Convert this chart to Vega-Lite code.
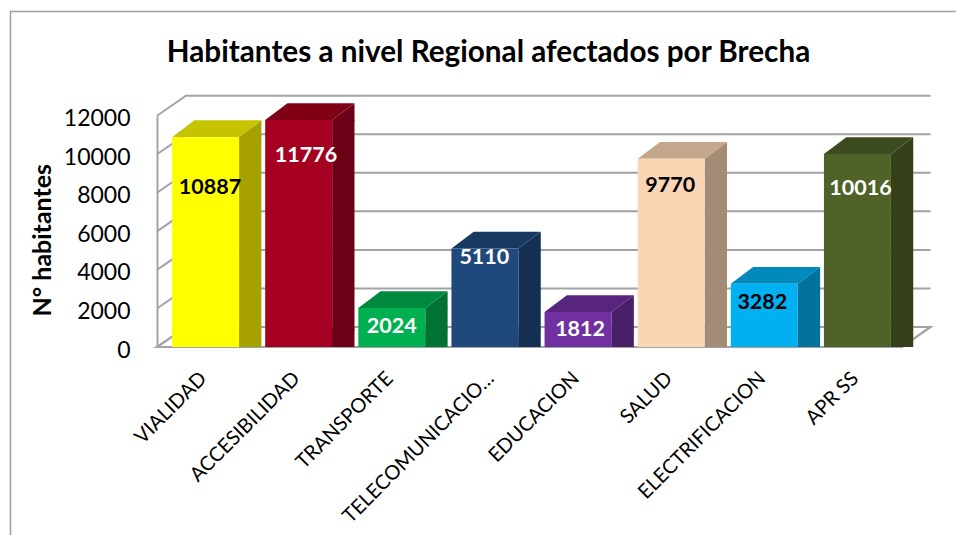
{
"$schema":"https://vega.github.io/schema/vega-lite/v6.json",
"autosize":"none",
"width":745,"height":231.3,
"padding":{"left":157,"top":115.7,"right":54,"bottom":188},
"background":"white",
"config":{"view":{"stroke":null},"font":"Lato"},
"title":{"text":"Habitantes a nivel Regional afectados por Brecha","font":"Lato","fontSize":29.7,"fontWeight":"bold","color":"#000000","anchor":"middle","frame":"group","dx":-41,"offset":-60},
"data":{"values":[
{"cat":"VIALIDAD","value":10887},
{"cat":"ACCESIBILIDAD","value":11776},
{"cat":"TRANSPORTE","value":2024},
{"cat":"TELECOMUNICACIO…","value":5110},
{"cat":"EDUCACION","value":1812},
{"cat":"SALUD","value":9770},
{"cat":"ELECTRIFICACION","value":3282},
{"cat":"APR SS","value":10016}
]},
"resolve":{"scale":{"color":"independent"}},
"layer":[
{"data":{"values":[{"f":1}]},"mark":{"type":"point","filled":false,"opacity":1,"size":4,"stroke":"#a0a0a0","strokeWidth":1.5,"shape":"M-519,303.65 L-519,-219.85 L426.5,-219.85"},"encoding":{}},
{"data":{"values":[{"tick":2000},{"tick":4000},{"tick":6000},{"tick":8000},{"tick":10000},{"tick":12000}]},
 "mark":{"type":"point","filled":false,"opacity":1,"size":4,"stroke":"#a3a3a3","strokeWidth":2,"shape":"M-372.5,0 L-343.5,-20 L401,-20"},
 "encoding":{"y":{"field":"tick","type":"quantitative","scale":{"domain":[0,12000]},"title":"N° habitantes",
   "axis":{"values":[0,2000,4000,6000,8000,10000,12000],"tickCount":7,"format":"d","grid":false,"ticks":false,"domain":true,"domainColor":"#a3a3a3","domainWidth":2,"labelFont":"Lato","labelFontSize":23,"labelColor":"#000000","labelPadding":27,"labelOffset":3,"labelOverlap":false,"labelBound":false,"labelSeparation":0,"titleFont":"Lato","titleFontSize":25,"titleFontWeight":"bold","titleColor":"#000000","titleX":-115,"titleY":124,"titleAngle":-90,"titleBaseline":"middle","titleAlign":"center"}}}},
{"data":{"values":[{"tick":0}]},
 "mark":{"type":"point","filled":false,"opacity":1,"size":4,"stroke":"#a3a3a3","strokeWidth":2.2,"shape":"M-372.5,0 L-343.5,-20 L401,-20 L372.5,0 Z"},
 "encoding":{"y":{"field":"tick","type":"quantitative","title":"N° habitantes"}}},
{"mark":{"type":"bar","size":22.3,"xOffset":46.65,"y2Offset":-17},
 "encoding":{
  "x":{"field":"cat","type":"nominal","sort":null,"scale":{"paddingInner":0,"paddingOuter":0},"title":null,
   "axis":{"domain":false,"ticks":false,"labelAngle":-45,"labelAlign":"right","labelBaseline":"middle","labelFont":"Lato","labelFontSize":20,"labelColor":"#000000","labelPadding":28,"labelLimit":300,"labelOverlap":false,
    "labelOffset":{"expr":"datum.value=='TELECOMUNICACIO…'?8:0"}}},
  "y":{"field":"value","type":"quantitative","title":"N° habitantes"},
  "color":{"field":"cat","type":"nominal","sort":null,"legend":null,"scale":{"domain":["VIALIDAD","ACCESIBILIDAD","TRANSPORTE","TELECOMUNICACIO…","EDUCACION","SALUD","ELECTRIFICACION","APR SS"],"range":["#A6A000","#6B0016","#007234","#142F51","#491F68","#A38B76","#00729C","#33401A"]}}
 }},
{"mark":{"type":"point","filled":true,"opacity":1,"size":4,"strokeWidth":0,"xOffset":2,"shape":"M33.5,0 L55.8,-16.8 L55.8,1 L33.5,1 Z"},
 "encoding":{
  "x":{"field":"cat","type":"nominal","sort":null},
  "y":{"field":"value","type":"quantitative","title":"N° habitantes"},
  "color":{"field":"cat","type":"nominal","sort":null,"legend":null,"scale":{"domain":["VIALIDAD","ACCESIBILIDAD","TRANSPORTE","TELECOMUNICACIO…","EDUCACION","SALUD","ELECTRIFICACION","APR SS"],"range":["#A6A000","#6B0016","#007234","#142F51","#491F68","#A38B76","#00729C","#33401A"]}}
 }},
{"mark":{"type":"point","filled":true,"opacity":1,"size":4,"strokeWidth":0,"xOffset":2,"shape":"M33.5,0 L55.8,-17 L55.8,-18 L33.5,-18 Z"},
 "encoding":{
  "x":{"field":"cat","type":"nominal","sort":null},
  "y":{"datum":0,"title":"N° habitantes"},
  "color":{"field":"cat","type":"nominal","sort":null,"legend":null,"scale":{"domain":["VIALIDAD","ACCESIBILIDAD","TRANSPORTE","TELECOMUNICACIO…","EDUCACION","SALUD","ELECTRIFICACION","APR SS"],"range":["#A6A000","#6B0016","#007234","#142F51","#491F68","#A38B76","#00729C","#33401A"]}}
 }},
{"mark":{"type":"point","filled":true,"opacity":1,"size":4,"strokeWidth":0,"xOffset":2,"shape":"M-33.5,0 L-11.2,-16.8 L55.8,-16.8 L33.5,0 Z"},
 "encoding":{
  "x":{"field":"cat","type":"nominal","sort":null},
  "y":{"field":"value","type":"quantitative","title":"N° habitantes"},
  "color":{"field":"cat","type":"nominal","sort":null,"legend":null,"scale":{"domain":["VIALIDAD","ACCESIBILIDAD","TRANSPORTE","TELECOMUNICACIO…","EDUCACION","SALUD","ELECTRIFICACION","APR SS"],"range":["#C6C300","#800016","#008A3E","#183A61","#57257D","#C4A68D","#0089BB","#3D4C1F"]}}
 }},
{"mark":{"type":"bar","size":67,"xOffset":2},
 "encoding":{
  "x":{"field":"cat","type":"nominal","sort":null},
  "y":{"field":"value","type":"quantitative","title":"N° habitantes"},
  "color":{"field":"cat","type":"nominal","sort":null,"legend":null,"scale":{"domain":["VIALIDAD","ACCESIBILIDAD","TRANSPORTE","TELECOMUNICACIO…","EDUCACION","SALUD","ELECTRIFICACION","APR SS"],"range":["#FFFF00","#A50021","#00B050","#1F497D","#7030A0","#FCD5B5","#00B0F0","#4F6228"]}}
 }},
{"mark":{"type":"text","font":"Lato","fontSize":21.5,"fontWeight":"bold","baseline":"middle","align":"center",
  "dx":{"expr":"{'VIALIDAD':6.4,'ACCESIBILIDAD':9.3,'TRANSPORTE':1.9,'TELECOMUNICACIO…':1.4,'EDUCACION':4,'SALUD':1,'ELECTRIFICACION':0,'APR SS':5}[datum.cat]"},
  "dy":{"expr":"{'VIALIDAD':51,'ACCESIBILIDAD':36,'TRANSPORTE':19.5,'TELECOMUNICACIO…':9,'EDUCACION':17.5,'SALUD':27.5,'ELECTRIFICACION':19.5,'APR SS':35}[datum.cat]"}},
 "encoding":{
  "x":{"field":"cat","type":"nominal","sort":null},
  "y":{"field":"value","type":"quantitative","title":"N° habitantes"},
  "text":{"field":"value","type":"quantitative","format":"d"},
  "color":{"field":"cat","type":"nominal","sort":null,"legend":null,"scale":{"domain":["VIALIDAD","ACCESIBILIDAD","TRANSPORTE","TELECOMUNICACIO…","EDUCACION","SALUD","ELECTRIFICACION","APR SS"],"range":["#000000","#FFFFFF","#FFFFFF","#FFFFFF","#FFFFFF","#000000","#000000","#FFFFFF"]}}
 }}
]
}
